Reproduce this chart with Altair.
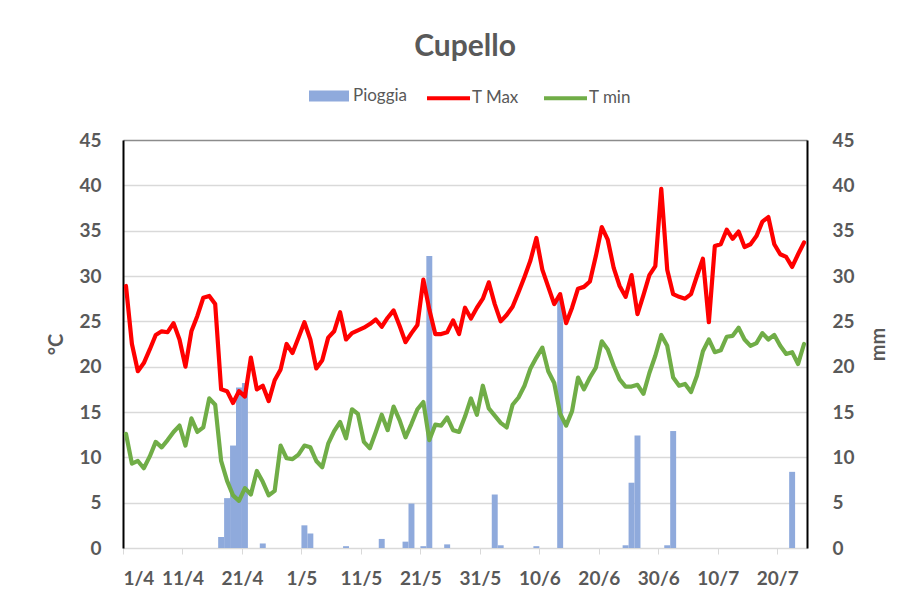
import altair as alt
import pandas as pd

# ---------------- data ----------------
tick_labels = ["1/4", "11/4", "21/4", "1/5", "11/5", "21/5", "31/5",
               "10/6", "20/6", "30/6", "10/7", "20/7"]

# daily maximum temperature, 1/4 .. 24/7 (°C)
t_max = [28.9, 22.5, 19.5, 20.4, 21.9, 23.5, 23.9, 23.8, 24.8, 23.0,
         20.0, 23.9, 25.6, 27.6, 27.8, 26.9, 17.5, 17.3, 16.0, 17.3,
         16.7, 21.0, 17.5, 17.9, 16.2, 18.5, 19.7, 22.5, 21.5, 23.2,
         24.9, 23.0, 19.8, 20.7, 23.2, 23.9, 26.0, 23.0, 23.7, 24.0,
         24.3, 24.7, 25.2, 24.4, 25.4, 26.2, 24.5, 22.7, 23.7, 24.6,
         29.6, 26.3, 23.6, 23.6, 23.8, 25.1, 23.6, 26.5, 25.3, 26.5,
         27.5, 29.3, 26.9, 25.0, 25.7, 26.6, 28.2, 29.9, 31.7, 34.2,
         30.7, 28.8, 26.9, 28.0, 24.8, 26.5, 28.6, 28.8, 29.4, 32.2,
         35.4, 34.0, 30.9, 28.9, 27.7, 30.1, 25.8, 27.9, 30.1, 31.1,
         39.6, 30.7, 28.0, 27.7, 27.5, 28.0, 30.0, 31.9, 24.9, 33.3,
         33.5, 35.1, 34.1, 34.9, 33.2, 33.5, 34.4, 36.0, 36.5, 33.5,
         32.4, 32.1, 31.0, 32.4, 33.7]

# daily minimum temperature (°C)
t_min = [12.6, 9.3, 9.6, 8.8, 10.1, 11.7, 11.1, 11.9, 12.8, 13.5,
         11.3, 14.3, 12.8, 13.3, 16.5, 15.8, 9.6, 7.4, 5.8, 5.2,
         6.6, 5.9, 8.5, 7.3, 5.8, 6.3, 11.3, 9.9, 9.8, 10.3,
         11.3, 11.1, 9.6, 8.9, 11.5, 12.9, 13.9, 12.1, 15.3, 14.8,
         11.7, 11.0, 12.8, 14.7, 13.0, 15.6, 14.1, 12.2, 13.7, 15.3,
         16.1, 11.9, 13.6, 13.5, 14.4, 13.0, 12.8, 14.5, 16.5, 14.7,
         17.9, 15.4, 14.6, 13.8, 13.3, 15.8, 16.6, 17.9, 19.8, 21.0,
         22.1, 19.5, 18.2, 14.8, 13.5, 15.1, 18.8, 17.5, 18.8, 19.9,
         22.8, 21.9, 20.1, 18.6, 17.8, 17.8, 18.0, 17.0, 19.3, 21.2,
         23.5, 22.3, 18.8, 17.9, 18.1, 17.2, 19.0, 21.7, 23.0, 21.6,
         21.8, 23.3, 23.4, 24.3, 23.0, 22.3, 22.6, 23.7, 23.0, 23.5,
         22.3, 21.4, 21.6, 20.3, 22.5]

# rainy days (day index from 1/4) and rain amount (mm)
rain_day = [16, 17, 18, 19, 20, 23, 30, 31, 37, 43, 47, 48, 50, 51, 54,
            62, 63, 69, 73, 84, 85, 86, 91, 92, 112]
rain_mm = [1.2, 5.5, 11.3, 17.7, 18.2, 0.5, 2.5, 1.6, 0.2, 1.0, 0.7, 4.9,
           0.2, 32.2, 0.4, 5.9, 0.3, 0.2, 27.5, 0.3, 7.2, 12.4, 0.3, 12.9, 8.4]

n_days = len(t_max)

temp_df = pd.DataFrame({
    "day": list(range(n_days)) * 2,
    "val": t_max + t_min,
    "series": ["T Max"] * n_days + ["T min"] * n_days,
})
rain_df = pd.DataFrame({"day": rain_day, "mm": rain_mm, "s": ["Pioggia"] * len(rain_day)})

# ---------------- styling ----------------
GRAY = "#595959"
FONT = "Lato"

label_expr = "[" + ",".join("'%s'" % t for t in tick_labels) + "][datum.value / 10]"

x_scale = alt.Scale(domain=[0, n_days], nice=False, zero=False)
y_scale = alt.Scale(domain=[0, 45], nice=False)

x_axis = alt.Axis(values=list(range(0, 111, 10)), labelExpr=label_expr, title=None,
                  grid=False, domainColor="#d9d9d9", domainWidth=1,
                  tickColor="#d9d9d9", tickSize=6, tickWidth=1,
                  labelFontSize=19, labelFontWeight="bold", labelColor=GRAY,
                  labelPadding=15, labelFont=FONT)

left_axis = alt.Axis(values=list(range(0, 46, 5)), title="°C", orient="left",
                     grid=True,
                     gridColor={"condition": {"test": "datum.value === 45", "value": "#8c8c8c"},
                                "value": "#d9d9d9"},
                     gridWidth=1.3, domainColor="#000000", domainWidth=2, ticks=False,
                     labelFontSize=19, labelFontWeight="bold", labelColor=GRAY,
                     labelPadding=22, labelFont=FONT,
                     titleFontSize=20, titleFontWeight="bold", titleColor=GRAY,
                     titlePadding=12, titleFont=FONT)

right_axis = alt.Axis(values=list(range(0, 46, 5)), title="mm", orient="right",
                      grid=False, domainColor="#000000", domainWidth=2, ticks=False,
                      labelFontSize=19, labelFontWeight="bold", labelColor=GRAY,
                      labelPadding=25, labelFont=FONT, titleAngle=270,
                      titleFontSize=20, titleFontWeight="bold", titleColor=GRAY,
                      titlePadding=34, titleFont=FONT)

bars = alt.Chart(rain_df).transform_calculate(
    x0="datum.day", x1="datum.day + 1"
).mark_bar(strokeWidth=0).encode(
    x=alt.X("x0:Q", scale=x_scale, axis=x_axis),
    x2="x1:Q",
    y=alt.Y("mm:Q", scale=y_scale, axis=right_axis),
    y2=alt.datum(0),
    fill=alt.Fill("s:N", scale=alt.Scale(domain=["Pioggia"], range=["#8FAADC"]),
                  legend=alt.Legend(title=None, orient="none", legendX=186, legendY=-64,
                                    symbolType="M-1,-0.275L1,-0.275L1,0.275L-1,0.275Z",
                                    symbolSize=1600, symbolStrokeWidth=0,
                                    labelFontSize=17, labelColor=GRAY, labelFont=FONT,
                                    labelOffset=4, padding=0)),
)

lines = alt.Chart(temp_df).transform_calculate(
    xm="datum.day + 0.5"
).mark_line(strokeWidth=4.2, strokeJoin="round", strokeCap="round").encode(
    x=alt.X("xm:Q", scale=x_scale, axis=x_axis),
    y=alt.Y("val:Q", scale=y_scale, axis=left_axis),
    stroke=alt.Stroke("series:N",
                      scale=alt.Scale(domain=["T Max", "T min"], range=["#FF0000", "#70AD47"]),
                      legend=alt.Legend(title=None, orient="none", legendX=302, legendY=-65.5,
                                        direction="horizontal", symbolType="stroke",
                                        symbolSize=1849, symbolStrokeWidth=4,
                                        labelFontSize=17, labelColor=GRAY, labelFont=FONT,
                                        labelOffset=0, columnPadding=17, padding=0)),
    detail="series:N",
)

chart = alt.layer(bars, lines).resolve_scale(y="independent").properties(
    width=684, height=408,
    autosize="none",
    padding={"left": 115, "top": 132, "right": 90, "bottom": 45},
    title=alt.Title("Cupello", fontSize=30, fontWeight="bold", color=GRAY, font=FONT,
                    anchor="middle", offset=13),
).configure(font=FONT).configure_view(stroke=None)

chart.save("out.html", embed_options={"renderer": "svg", "actions": False})
